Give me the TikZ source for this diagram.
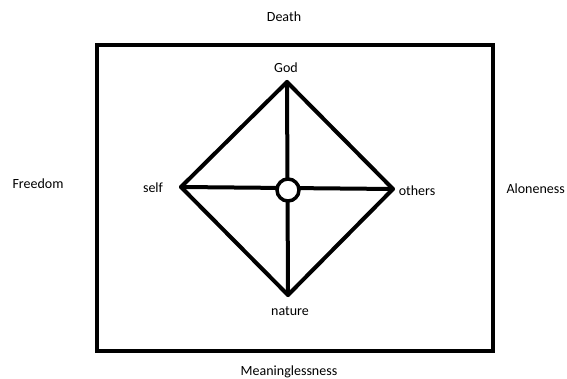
\documentclass[tikz,border=0pt]{standalone}
\usepackage{fontspec}
\setmainfont{Carlito}
\begin{document}
\begin{tikzpicture}[x=1pt,y=-1pt,
  lbl/.style={font=\fontsize{14}{16}\selectfont, inner sep=0pt, text=black},
  thick line/.style={line width=4pt, line cap=round, line join=round}]
\useasboundingbox (0,0) rectangle (567,379);
\fill[white] (0,0) rectangle (567,379);
% outer frame
\node[draw, line width=4pt, minimum width=396pt, minimum height=306pt, inner sep=0pt] (frame) at (294.5,198) {};
% diamond corners
\coordinate (top) at (287,82);
\coordinate (left) at (181,187);
\coordinate (right) at (393,189);
\coordinate (bottom) at (288,295);
\draw[thick line] (top) -- (right) -- (bottom) -- (left) -- cycle;
\draw[thick line] (top) -- (bottom);
\draw[thick line] (left) -- (right);
\node[circle, draw, fill=white, line width=3.5pt, minimum size=22pt, inner sep=0pt] (hub) at (288,190) {};
% labels
\node[lbl] (god) at (286,68) {God};
\node[lbl] (self) at (153,188) {self};
\node[lbl] (others) at (417,191) {others};
\node[lbl] (nature) at (290,311) {nature};
\node[lbl] (death) at (284,17) {Death};
\node[lbl] (freedom) at (38,184) {Freedom};
\node[lbl, anchor=east] (alone) at (565,189) {Aloneness};
\node[lbl, anchor=south] (mean) at (289,378) {Meaninglessness};
\end{tikzpicture}
\end{document}
